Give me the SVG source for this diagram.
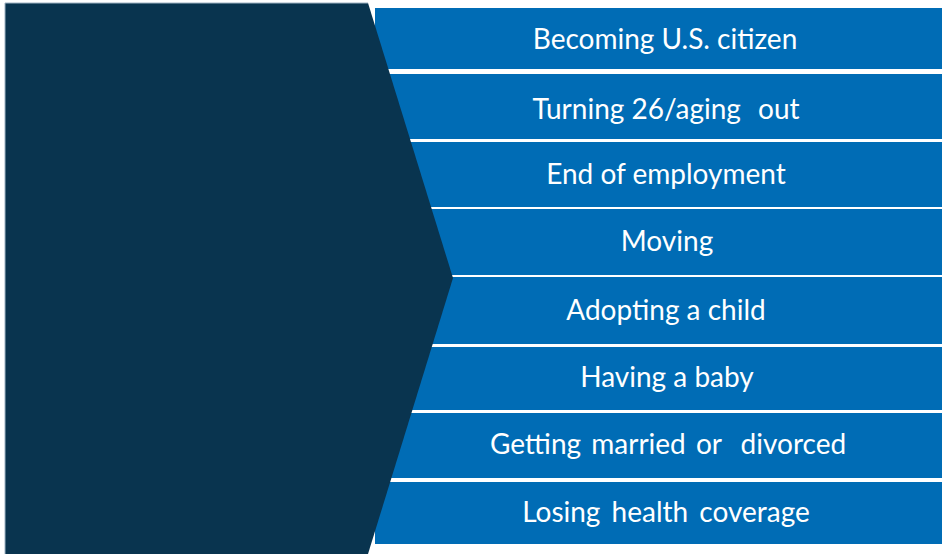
<svg xmlns="http://www.w3.org/2000/svg" width="942" height="554" viewBox="0 0 942 554">
<style>
.bar{fill:#006CB5}
.lbl{font-family:Lato,"Open Sans",sans-serif;font-size:28px;fill:#FFFFFF;text-anchor:middle}
</style>
<rect width="942" height="554" fill="#FFFFFF"/>
<g id="bars">
<g id="n1"><rect class="bar" x="375" y="8" width="567" height="61"/><text class="lbl" x="665" y="49">Becoming U.S. citizen</text></g>
<g id="n2"><rect class="bar" x="375" y="74" width="567" height="65"/><text class="lbl" x="666" y="119">Turning 26/aging<tspan dx="10"> out</tspan></text></g>
<g id="n3"><rect class="bar" x="375" y="142" width="567" height="65"/><text class="lbl" x="666" y="184">End of employment</text></g>
<g id="n4"><rect class="bar" x="375" y="209" width="567" height="66"/><text class="lbl" x="667" y="251">Moving</text></g>
<g id="n5"><rect class="bar" x="375" y="277" width="567" height="67"/><text class="lbl" x="666" y="320">Adopting a child</text></g>
<g id="n6"><rect class="bar" x="375" y="347" width="567" height="63"/><text class="lbl" x="667" y="387">Having a baby</text></g>
<g id="n7"><rect class="bar" x="375" y="413" width="567" height="65"/><text class="lbl" x="668" y="454" word-spacing="3">Getting married or<tspan dx="9"> divorced</tspan></text></g>
<g id="n8"><rect class="bar" x="375" y="482" width="567" height="62"/><text class="lbl" x="666" y="522" word-spacing="4">Losing health coverage</text></g>
</g>
<g id="chevron">
<polygon points="5,3 368,3 453,278 368,554 5,554" fill="#09344F"/>
<polyline points="5,554 5,3 368,3" fill="none" stroke="#9FB3C4" stroke-width="1"/>
</g>
</svg>
